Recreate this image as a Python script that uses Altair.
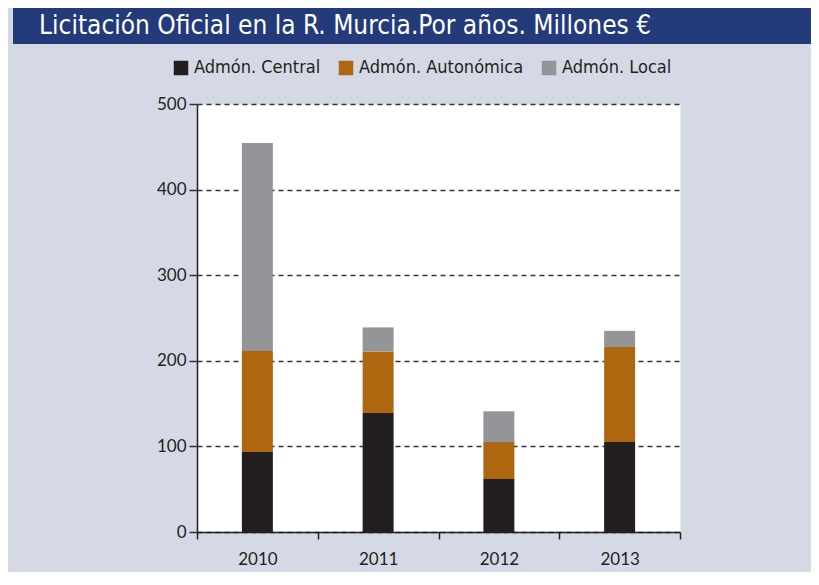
import altair as alt
import pandas as pd

years = ["2010", "2011", "2012", "2013"]
central = [93.5, 139, 62, 105]
autonomica = [118, 72, 43, 111]
local = [243, 28, 36, 19]
series = ["Admón. Central", "Admón. Autonómica", "Admón. Local"]
colors = ["#231F20", "#AE670E", "#939598"]

rows = []
for i, y in enumerate(years):
    for k, (name, vals) in enumerate(zip(series, [central, autonomica, local])):
        rows.append({"year": y, "series": name, "value": vals[i], "ord": k})
df = pd.DataFrame(rows)

TITLE_FONT = "Liberation Sans Narrow, DejaVu Sans Condensed, sans-serif"
AXIS_FONT = "Lato, Open Sans, sans-serif"

banner = alt.Chart(pd.DataFrame({"a": [0]})).mark_rect(color="#233A7B").encode(
    x=alt.value(-184), x2=alt.value(640), y=alt.value(-96), y2=alt.value(-60)
)

bars = alt.Chart(df).mark_bar(size=31).encode(
    x=alt.X("year:N", title=None,
            scale=alt.Scale(paddingInner=0, paddingOuter=0),
            axis=alt.Axis(labelAngle=0, tickBand="extent", tickSize=7, tickColor="#231F20",
                          domainColor="#231F20", domainWidth=1.5, tickWidth=1.5,
                          labelFont=AXIS_FONT, labelFontSize=17, labelColor="#231F20",
                          labelPadding=12, grid=False)),
    y=alt.Y("value:Q", stack="zero", title=None,
            scale=alt.Scale(domain=[0, 500]),
            axis=alt.Axis(values=[0, 100, 200, 300, 400, 500], grid=True, gridDash=[5, 4],
                          gridColor="#333333", gridWidth=1.5, tickSize=8, tickColor="#333333",
                          tickWidth=1.5, domainColor="#231F20", domainWidth=1.5,
                          labelFont=AXIS_FONT, labelFontSize=17, labelColor="#231F20",
                          labelPadding=3)),
    color=alt.Color("series:N", scale=alt.Scale(domain=series, range=colors),
                    legend=alt.Legend(orient="none", legendX=-25, legendY=-45, direction="horizontal",
                                      title=None, symbolType="square", symbolSize=210,
                                      symbolStrokeWidth=0, labelFont=TITLE_FONT, labelFontSize=18,
                                      labelLimit=400, labelColor="#231F20", columnPadding=16,
                                      labelOffset=4)),
    order=alt.Order("ord:Q"),
)

chart = alt.layer(banner, bars).properties(
    width=483, height=428,
    autosize="none",
    padding={"left": 189, "top": 96, "right": 131, "bottom": 40},
    title=alt.TitleParams(text="Licitación Oficial en la R. Murcia.Por años. Millones €",
                          anchor="start", frame="group", dx=-158, offset=0, dy=31,
                          color="white", font=TITLE_FONT, fontSize=26, fontWeight="normal"),
).configure(background="#D5D9E6").configure_view(fill="white", stroke="transparent")

chart.save("out.html", embed_options={"renderer": "svg", "actions": False})
